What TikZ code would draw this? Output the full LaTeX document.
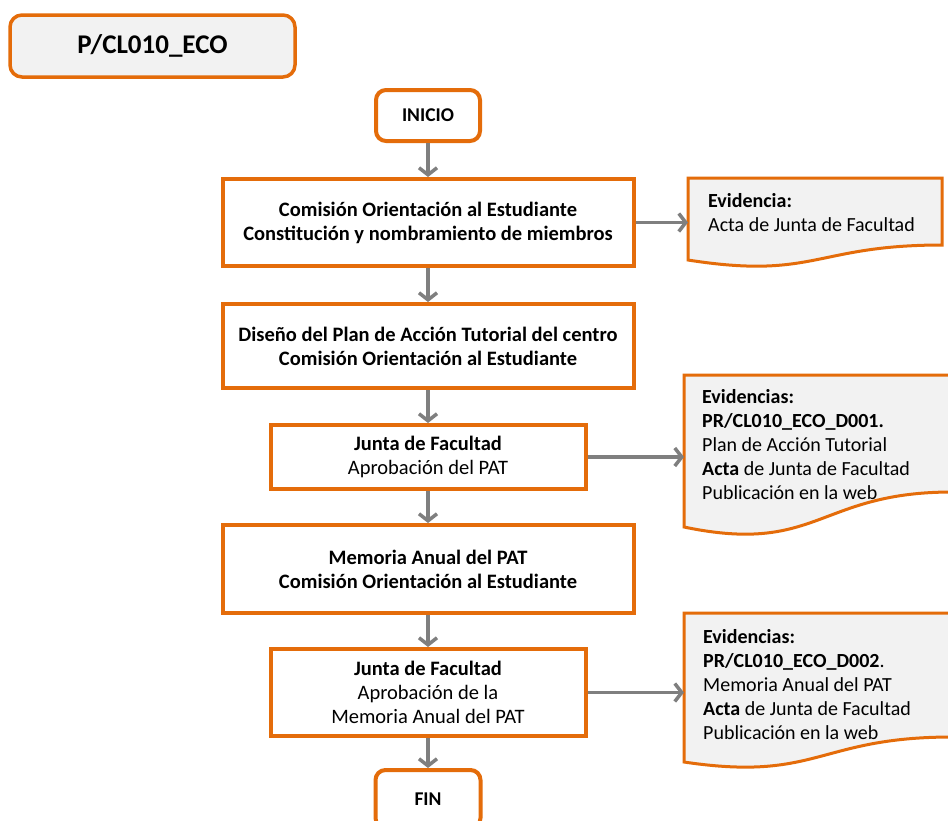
\documentclass[tikz,border=0pt]{standalone}
\usepackage{fontspec}
\setmainfont{Carlito}
\usetikzlibrary{arrows.meta}
\definecolor{orng}{HTML}{E46C0A}
\definecolor{arrgray}{HTML}{7F7F7F}
\definecolor{lgray}{HTML}{F2F2F2}
\begin{document}
\begin{tikzpicture}[x=1pt,y=-1pt,
  flowbox/.style={draw=orng, line width=4pt, fill=white, rectangle, align=center, inner sep=0pt, font=\fontsize{20.5}{24}\selectfont},
  boldbox/.style={flowbox, font=\bfseries\fontsize{20.5}{24}\selectfont},
  termbox/.style={boldbox, rounded corners=10pt},
  conn/.style={draw=arrgray, line width=3.5pt, -{Straight Barb[length=7pt,width=18pt]}},
  docbox/.style={draw=orng, line width=3pt, fill=lgray},
  evtext/.style={anchor=north west, inner sep=0pt, align=left, font=\fontsize{20}{24}\selectfont}]
\useasboundingbox (0,0) rectangle (948,820);
\fill[white] (0,0) rectangle (948,820);

% title
\node[termbox, fill=lgray, line width=3.5pt, rounded corners=12pt, minimum width=285pt, minimum height=62pt, font=\bfseries\fontsize{27}{32}\selectfont] (title) at (152.5,46) {P/CL010\_ECO};

% flow
\node[termbox, minimum width=104pt, minimum height=51pt, font=\bfseries\fontsize{19.5}{23.5}\selectfont] (inicio) at (428,115.5) {INICIO};
\node[boldbox, minimum width=411pt, minimum height=87pt] (b1) at (428,222.5) {Comisión Orientación al Estudiante\\Constitución y nombramiento de miembros};
\node[boldbox, minimum width=411pt, minimum height=84pt] (b2) at (428,346) {Diseño del Plan de Acción Tutorial del centro\\Comisión Orientación al Estudiante};
\node[flowbox, minimum width=315pt, minimum height=64pt] (b3) at (428,457) {\textbf{Junta de Facultad}\\Aprobación del PAT};
\node[boldbox, minimum width=411pt, minimum height=88pt] (b4) at (428,569) {Memoria Anual del PAT\\Comisión Orientación al Estudiante};
\node[flowbox, minimum width=315pt, minimum height=87pt] (b5) at (428,692.5) {\textbf{Junta de Facultad}\\Aprobación de la\\Memoria Anual del PAT};
\node[termbox, minimum width=105pt, minimum height=58pt, font=\bfseries\fontsize{19.5}{23.5}\selectfont] (fin) at (428,799) {FIN};

% evidence documents
\draw[docbox] (688,178) -- (942,178) -- (942,245) .. controls (815,245) and (815,280) .. (688,260) -- cycle;
\coordinate (evA) at (688,178);
\node[evtext] (tA) at (708,193) {\textbf{Evidencia:}\\Acta de Junta de Facultad};

\draw[docbox] (684,375) -- (952,375) -- (952,492) .. controls (818,492) and (818,555) .. (684,527) -- cycle;
\coordinate (evB) at (684,375);
\node[evtext] (tB) at (702,389) {\textbf{Evidencias:}\\\textbf{PR/CL010\_ECO\_D001.}\\Plan de Acción Tutorial\\\textbf{Acta} de Junta de Facultad\\Publicación en la web};

\draw[docbox] (684,613) -- (952,613) -- (952,737) .. controls (818,737) and (818,782) .. (684,762) -- cycle;
\coordinate (evC) at (684,613);
\node[evtext] (tC) at (703,629) {\textbf{Evidencias:}\\\textbf{PR/CL010\_ECO\_D002}.\\Memoria Anual del PAT\\\textbf{Acta} de Junta de Facultad\\Publicación en la web};

% connectors
\draw[conn] (inicio.south) -- (b1.north);
\draw[conn] (b1.south) -- (b2.north);
\draw[conn] (b2.south) -- (b3.north);
\draw[conn] (b3.south) -- (b4.north);
\draw[conn] (b4.south) -- (b5.north);
\draw[conn] (b5.south) -- (fin.north);
\draw[conn] (b1.east) -- (b1.east -| evA);
\draw[conn] (b3.east) -- (b3.east -| evB);
\draw[conn] (b5.east) -- (b5.east -| evC);
\end{tikzpicture}
\end{document}
